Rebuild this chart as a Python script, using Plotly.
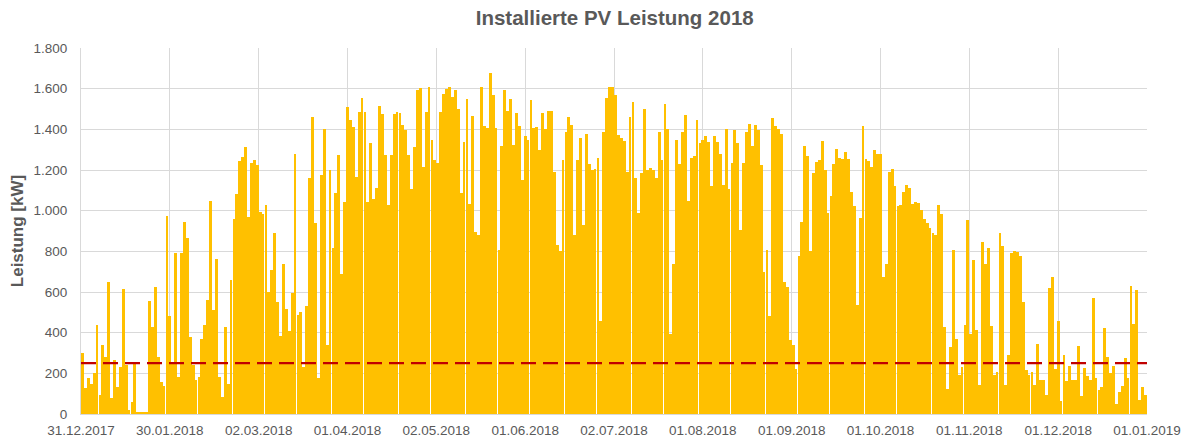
import pandas as pd
import plotly.graph_objects as go

# Daily peak PV output [kW]
peak_dec_2017 = [300]
peak_jan = [130, 175, 150, 200, 440, 95, 340, 280, 650, 80, 265, 135, 230, 615, 240, 20,
            60, 250, 5, 5, 5, 10, 555, 430, 625, 280, 155, 140, 975, 480, 250]
peak_feb = [790, 180, 790, 945, 865, 380, 240, 165, 180, 370, 440, 560, 1050, 510, 760, 180,
            85, 430, 150, 660, 960, 1080, 1245, 1265, 1315, 970, 1235, 1250]
peak_mar = [1225, 995, 985, 1030, 600, 710, 890, 550, 385, 740, 515, 410, 595, 1280, 485, 500,
            230, 530, 1160, 1460, 940, 175, 1175, 1400, 340, 1200, 815, 1085, 1275, 690, 1045]
peak_apr = [1510, 1445, 1410, 1165, 1485, 1555, 1485, 1045, 1335, 1055, 1110, 1515, 1475, 1275, 1030,
            1275, 1475, 1485, 1480, 1420, 1395, 1275, 1105, 1315, 1595, 1605, 1215, 1485, 1610, 1350]
peak_may = [1250, 1235, 1485, 1575, 1600, 1610, 1560, 1595, 1500, 1085, 1340, 1550, 1035, 1465, 895, 880,
            1610, 1415, 1405, 1675, 1570, 1405, 805, 1320, 1595, 1490, 1550, 1325, 1480, 1415, 1150]
peak_jun = [1365, 1350, 1545, 1405, 1410, 1300, 1480, 1400, 1490, 1490, 1190, 830, 800, 1250, 1385,
            1460, 1420, 880, 1250, 1355, 930, 1375, 1230, 1200, 1205, 1260, 455, 1385, 1555, 1610]
peak_jul = [1610, 1570, 1370, 1355, 1345, 1190, 1460, 1535, 1160, 990, 1185, 1500, 1200, 1210, 1200, 1160,
            1385, 1250, 1525, 1400, 395, 740, 1350, 1230, 1385, 1470, 1050, 1260, 1270, 1445, 1335]
peak_aug = [1350, 1365, 1340, 1120, 1365, 1340, 1280, 1125, 1400, 1105, 1235, 1395, 1335, 905, 1235, 1385,
            1425, 1320, 1420, 1395, 1225, 700, 805, 480, 1455, 1415, 1400, 1375, 650, 625, 365]
peak_sep = [340, 220, 775, 945, 1320, 1270, 800, 1185, 1240, 1250, 1345, 1200, 990, 1070, 1230,
            1305, 1260, 1255, 1290, 1255, 1090, 1025, 535, 965, 1415, 1255, 1245, 1215, 1300, 1280]
peak_oct = [1280, 675, 740, 1190, 1205, 1120, 1025, 1030, 1090, 1125, 1110, 1035, 1045, 1040, 1005, 960,
            940, 915, 890, 880, 1030, 985, 430, 125, 330, 805, 370, 190, 230, 440, 955]
peak_nov = [395, 755, 415, 145, 845, 740, 815, 435, 190, 205, 890, 825, 145, 290, 790,
            800, 795, 775, 550, 215, 190, 205, 145, 345, 165, 165, 95, 620, 675, 220]
peak_dec = [455, 65, 290, 160, 235, 165, 165, 335, 90, 225, 185, 165, 570, 175, 120, 135,
            425, 280, 200, 235, 50, 110, 140, 275, 175, 630, 445, 610, 70, 135, 95]

threshold_kw = 250

tick_labels = ["31.12.2017", "30.01.2018", "02.03.2018", "01.04.2018", "02.05.2018",
               "01.06.2018", "02.07.2018", "01.08.2018", "01.09.2018", "01.10.2018",
               "01.11.2018", "01.12.2018", "01.01.2019"]

axis_start = pd.Timestamp("2017-12-31")
axis_end = pd.Timestamp("2019-01-01")

peaks = (peak_dec_2017 + peak_jan + peak_feb + peak_mar + peak_apr + peak_may + peak_jun
         + peak_jul + peak_aug + peak_sep + peak_oct + peak_nov + peak_dec)
days = pd.date_range(axis_start, periods=len(peaks), freq="D") + pd.Timedelta(hours=12)

n_int = len(tick_labels) - 1
tick_vals = [axis_start + (axis_end - axis_start) * k / n_int for k in range(len(tick_labels))]

grey = "#595959"
fig = go.Figure()
fig.add_trace(go.Bar(
    x=days, y=peaks, width=86400000 * 0.97,
    marker=dict(color="#FFC000", line=dict(width=0)),
    showlegend=False,
))
fig.add_trace(go.Scatter(
    x=[axis_start, axis_end], y=[threshold_kw, threshold_kw], mode="lines",
    line=dict(color="#C00000", width=2.2, dash="15px,7px"),
    showlegend=False,
))

fig.update_layout(
    width=1189, height=439,
    margin=dict(l=81, r=42, t=48, b=25),
    paper_bgcolor="white", plot_bgcolor="white",
    separators=",.",
    bargap=0,
    font=dict(family="Liberation Sans, Arial, sans-serif", color=grey, size=13),
    title=dict(text="<b>Installierte PV Leistung 2018</b>", x=0.517, xanchor="center",
               y=1 - 18 / 439, yanchor="middle", font=dict(size=20.5, color=grey)),
    xaxis=dict(range=[axis_start, axis_end], tickvals=tick_vals, ticktext=tick_labels,
               automargin=False,
               showgrid=True, gridcolor="#D9D9D9", gridwidth=1,
               showline=True, linecolor="#D9D9D9", zeroline=False,
               tickfont=dict(size=13.5, color=grey), ticklabelstandoff=4),
    yaxis=dict(range=[0, 1800], dtick=200, tickformat=",d",
               automargin=False,
               showgrid=True, gridcolor="#D9D9D9", gridwidth=1,
               showline=True, linecolor="#D9D9D9", zeroline=False,
               tickfont=dict(size=13.5, color=grey), ticklabelstandoff=10,
               title=dict(text="<b>Leistung [kW]</b>", font=dict(size=17, color=grey), standoff=5)),
)

fig.write_html("out.html", config={"displayModeBar": False},
               post_script="document.body.style.margin='0';document.body.style.overflow='hidden';")
